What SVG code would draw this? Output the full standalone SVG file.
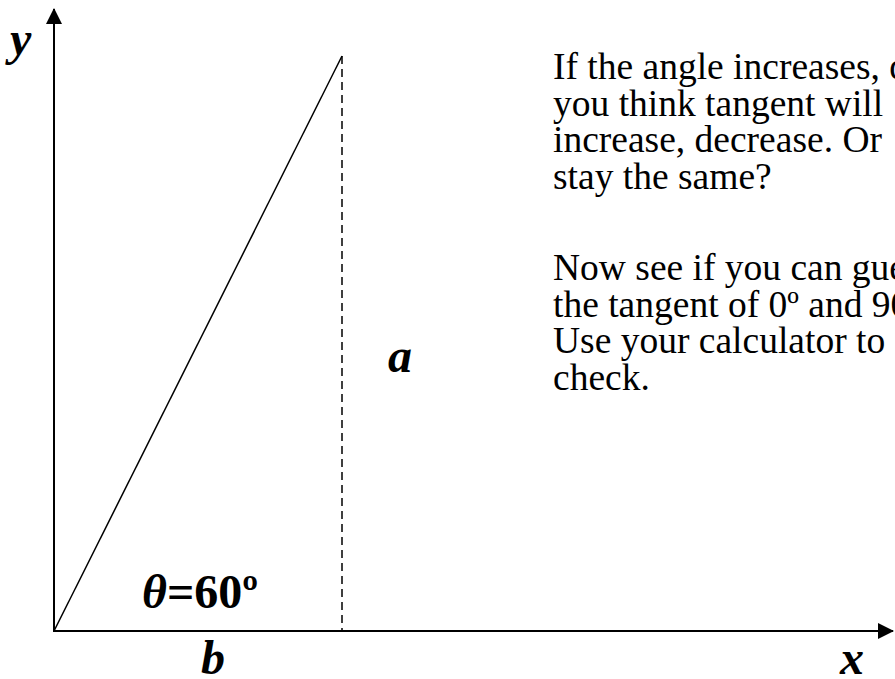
<svg xmlns="http://www.w3.org/2000/svg" width="895" height="679" viewBox="0 0 895 679">
<style>
.axis{stroke:#000;stroke-width:2;fill:none}
.hyp{stroke:#000;stroke-width:1.5;fill:none}
.dash{stroke:#000;stroke-width:1.5;stroke-dasharray:8,5;fill:none}
.lbl{font-family:"Liberation Serif","Times New Roman",serif;font-size:48px;font-weight:bold;font-style:italic;fill:#000}
.body{font-family:"Liberation Serif","Times New Roman",serif;font-size:37.5px;fill:#000}
</style>
<defs>
<marker id="arrow" markerUnits="userSpaceOnUse" markerWidth="16" markerHeight="16" refX="15" refY="8" orient="auto">
<path d="M0,0 L16,8 L0,16 Z" fill="#000"/>
</marker>
</defs>
<g id="connectors">
<line id="y-axis" class="axis" x1="54" y1="632" x2="54" y2="9" marker-end="url(#arrow)"/>
<line id="x-axis" class="axis" x1="53" y1="631" x2="893" y2="631" marker-end="url(#arrow)"/>
<line id="hypotenuse" class="hyp" x1="54" y1="631" x2="342" y2="56"/>
<line id="opposite" class="dash" x1="342" y1="56" x2="342" y2="631"/>
</g>
<g id="label-y"><text class="lbl" x="10" y="55">y</text></g>
<g id="label-x"><text class="lbl" x="840" y="674">x</text></g>
<g id="label-a"><text class="lbl" x="388" y="372">a</text></g>
<g id="label-b"><text class="lbl" x="201" y="674">b</text></g>
<g id="label-theta"><text class="lbl" x="142" y="608" style="font-style:normal"><tspan font-style="italic">θ</tspan>=60º</text></g>
<g id="question">
<text class="body" x="553" y="78">
<tspan x="553" y="79">If the angle increases, do</tspan>
<tspan x="553" y="115.5">you think tangent will</tspan>
<tspan x="553" y="152">increase, decrease. Or</tspan>
<tspan x="553" y="188.5">stay the same?</tspan>
<tspan x="553" y="280">Now see if you can guess</tspan>
<tspan x="553" y="316.5">the tangent of 0º and 90º.</tspan>
<tspan x="553" y="353">Use your calculator to</tspan>
<tspan x="553" y="389.5">check.</tspan>
</text>
</g>
</svg>
